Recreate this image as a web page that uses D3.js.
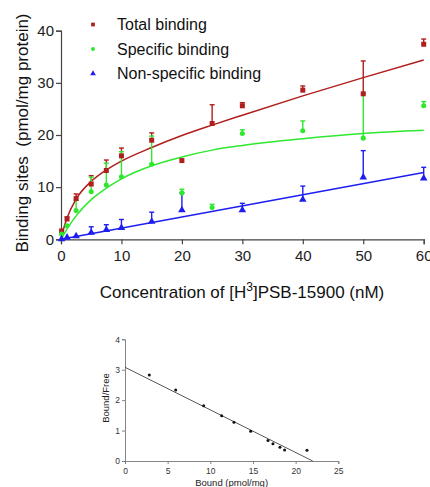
<!DOCTYPE html>
<meta charset="utf-8">
<style>
  body { margin: 0; background: #fff; }
  svg text { font-family: Arial, "Liberation Sans", sans-serif; }
  .main .tick text { font-size: 15px; fill: #222; }
  .main .domain, .main .tick line { stroke: #444; stroke-width: 1.2px; }
  .scat .tick text { font-size: 8.5px; fill: #333; }
  .scat .domain, .scat .tick line { stroke: #777; stroke-width: 0.9px; }
</style>
<svg width="430" height="487"></svg>
<script src="https://d3js.org/d3.v7.min.js"></script>
<script>
  // saturation data (nM, pmol/mg protein)
  var conc = [0.1, 1, 2.5, 5, 7.5, 10, 15, 20, 25, 30, 40, 50, 60];
  var total = [1.6, 3.9, 7.8, 10.6, 13.2, 16.0, 19.0, 15.1, 22.2, 25.6, 28.6, 27.9, 37.4];
  var totalErr = [null, 0.4, 0.9, 1.6, 2.0, 1.5, 1.4, null, 3.6, 0.6, 0.8, 6.3, 1.0];
  var specific = [1.0, 2.6, 5.5, 9.1, 10.4, 12.0, 14.4, 8.9, 6.1, 20.3, 20.8, 19.4, 25.6];
  var specificErr = [null, null, 2.0, 2.8, 4.2, 4.8, 5.4, 0.7, 0.6, 0.7, 1.9, 8.5, 0.8];
  var nonspec = [0.05, 0.35, 0.6, 1.3, 1.8, 2.2, 3.4, 5.6, null, 5.6, 7.6, 11.9, 11.7];
  var nonspecErr = [null, null, null, 1.1, 1.0, 1.6, 1.8, 3.3, null, 1.3, 2.6, 5.1, 2.1];

  // fitted curves
  var fitX = [0, 0.5, 1, 2.5, 5, 7.5, 10, 15, 20, 25, 30, 40, 50, 60];
  var fitTotal = [0, 2.3, 4.1, 7.7, 11.1, 13.3, 15.0, 17.6, 19.9, 21.9, 23.8, 27.5, 31.0, 34.4];
  var fitSpecific = [0, 1.0, 2.0, 4.5, 7.6, 9.8, 11.6, 14.1, 15.8, 17.1, 18.0, 19.3, 20.3, 20.9];
  var fitNonspecX = [0, 60];
  var fitNonspec = [0, 12.8];

  // scatchard
  var bound = [2.85, 5.94, 9.22, 11.33, 12.77, 14.73, 16.76, 17.34, 18.16, 18.71, 21.33];
  var boundFree = [2.83, 2.33, 1.82, 1.49, 1.27, 0.98, 0.67, 0.57, 0.45, 0.36, 0.35];
  var scatLineX = [0, 22.0];
  var scatLineY = [3.08, 0];

  var series = [
    { name: "Total binding", y: total, err: totalErr, fx: fitX, fy: fitTotal, color: "#b01e1e", shape: d3.symbolSquare },
    { name: "Specific binding", y: specific, err: specificErr, fx: fitX, fy: fitSpecific, color: "#2ee82e", shape: d3.symbolCircle },
    { name: "Non-specific binding", y: nonspec, err: nonspecErr, fx: fitNonspecX, fy: fitNonspec, color: "#1e1ef0", shape: d3.symbolTriangle }
  ];

  var svg = d3.select("svg");

  // ---------- main chart ----------
  var main = svg.append("g").attr("class", "main");
  var x = d3.scaleLinear().domain([0, 60]).range([61, 423.7]);
  var y = d3.scaleLinear().domain([0, 40]).range([239.3, 30.7]);

  main.append("g")
    .attr("transform", "translate(0," + y(0) + ")")
    .call(d3.axisBottom(x).tickValues([0, 10, 20, 30, 40, 50, 60]).tickSizeOuter(0).tickSize(5).tickPadding(6));
  main.append("g")
    .attr("transform", "translate(" + x(0) + ",0)")
    .call(d3.axisLeft(y).tickValues([0, 10, 20, 30, 40]).tickSizeOuter(0).tickSize(5).tickPadding(2));

  var line = d3.line().curve(d3.curveMonotoneX);

  series.forEach(function(s) {
    var pts = s.fx.map(function(v, i) { return [x(v), y(s.fy[i])]; });
    main.append("path")
      .attr("d", line(pts))
      .attr("fill", "none")
      .attr("stroke", s.color)
      .attr("stroke-width", 1.5);
  });

  series.forEach(function(s) {
    var g = main.append("g");
    conc.forEach(function(c, i) {
      if (s.y[i] == null || s.err[i] == null) return;
      var cx = x(c), y0 = y(s.y[i]), y1 = y(s.y[i] + s.err[i]);
      g.append("line").attr("x1", cx).attr("x2", cx).attr("y1", y0).attr("y2", y1)
        .attr("stroke", s.color).attr("stroke-width", 1.4);
      g.append("line").attr("x1", cx - 2.5).attr("x2", cx + 2.5).attr("y1", y1).attr("y2", y1)
        .attr("stroke", s.color).attr("stroke-width", 1.4);
    });
  });

  series.forEach(function(s) {
    var sym = d3.symbol().type(s.shape).size(s.shape === d3.symbolCircle ? 20 : 25);
    main.append("g").selectAll("path")
      .data(conc.map(function(c, i) { return [c, s.y[i]]; }).filter(function(d) { return d[1] != null; }))
      .enter().append("path")
      .attr("d", sym)
      .attr("fill", s.color)
      .attr("transform", function(d) { return "translate(" + x(d[0]) + "," + y(d[1]) + ")"; });
  });

  // legend
  var legend = main.append("g");
  series.forEach(function(s, i) {
    var ly = 24.5 + i * 24.5;
    legend.append("path")
      .attr("d", d3.symbol().type(s.shape).size(s.shape === d3.symbolCircle ? 12 : 14))
      .attr("fill", s.color)
      .attr("transform", "translate(93," + ly + ")");
    legend.append("text")
      .attr("x", 117).attr("y", ly + 5.5)
      .style("font-size", "16px").attr("fill", "#111")
      .text(s.name);
  });

  var xt = main.append("text")
    .attr("x", 242).attr("y", 298)
    .attr("text-anchor", "middle")
    .style("font-size", "17px").attr("fill", "#111");
  xt.append("tspan").text("Concentration of [H");
  xt.append("tspan").attr("dy", -7).style("font-size", "12px").text("3");
  xt.append("tspan").attr("dy", 7).text("]PSB-15900 (nM)");

  main.append("text")
    .attr("transform", "translate(28,133) rotate(-90)")
    .attr("text-anchor", "middle")
    .style("font-size", "17px").style("white-space", "pre").attr("fill", "#111")
    .text("Binding sites  (pmol/mg protein)");

  // ---------- scatchard ----------
  var scat = svg.append("g").attr("class", "scat");
  var sx = d3.scaleLinear().domain([0, 25]).range([125, 338.3]);
  var sy = d3.scaleLinear().domain([0, 4]).range([461, 339.3]);

  scat.append("g")
    .attr("transform", "translate(0," + sy(0) + ")")
    .call(d3.axisBottom(sx).tickValues([0, 5, 10, 15, 20, 25]).tickFormat(d3.format("d")).tickSizeOuter(0).tickSize(3).tickPadding(4));
  scat.append("g")
    .attr("transform", "translate(" + sx(0) + ",0)")
    .call(d3.axisLeft(sy).tickValues([0, 1, 2, 3, 4]).tickFormat(d3.format("d")).tickSizeOuter(0).tickSize(3).tickPadding(2));

  scat.append("path")
    .attr("d", d3.line()(scatLineX.map(function(v, i) { return [sx(v), sy(scatLineY[i])]; })))
    .attr("stroke", "#444").attr("stroke-width", 0.9).attr("fill", "none");

  scat.append("g").selectAll("circle")
    .data(bound)
    .enter().append("circle")
    .attr("cx", function(d) { return sx(d); })
    .attr("cy", function(d, i) { return sy(boundFree[i]); })
    .attr("r", 1.5)
    .attr("fill", "#111");

  scat.append("text")
    .attr("x", sx(12.5)).attr("y", 486)
    .attr("text-anchor", "middle")
    .style("font-size", "9.5px").attr("fill", "#222")
    .text("Bound (pmol/mg)");

  scat.append("text")
    .attr("transform", "translate(108.5,398) rotate(-90)")
    .attr("text-anchor", "middle")
    .style("font-size", "9.5px").attr("fill", "#222")
    .text("Bound/Free");
</script>
